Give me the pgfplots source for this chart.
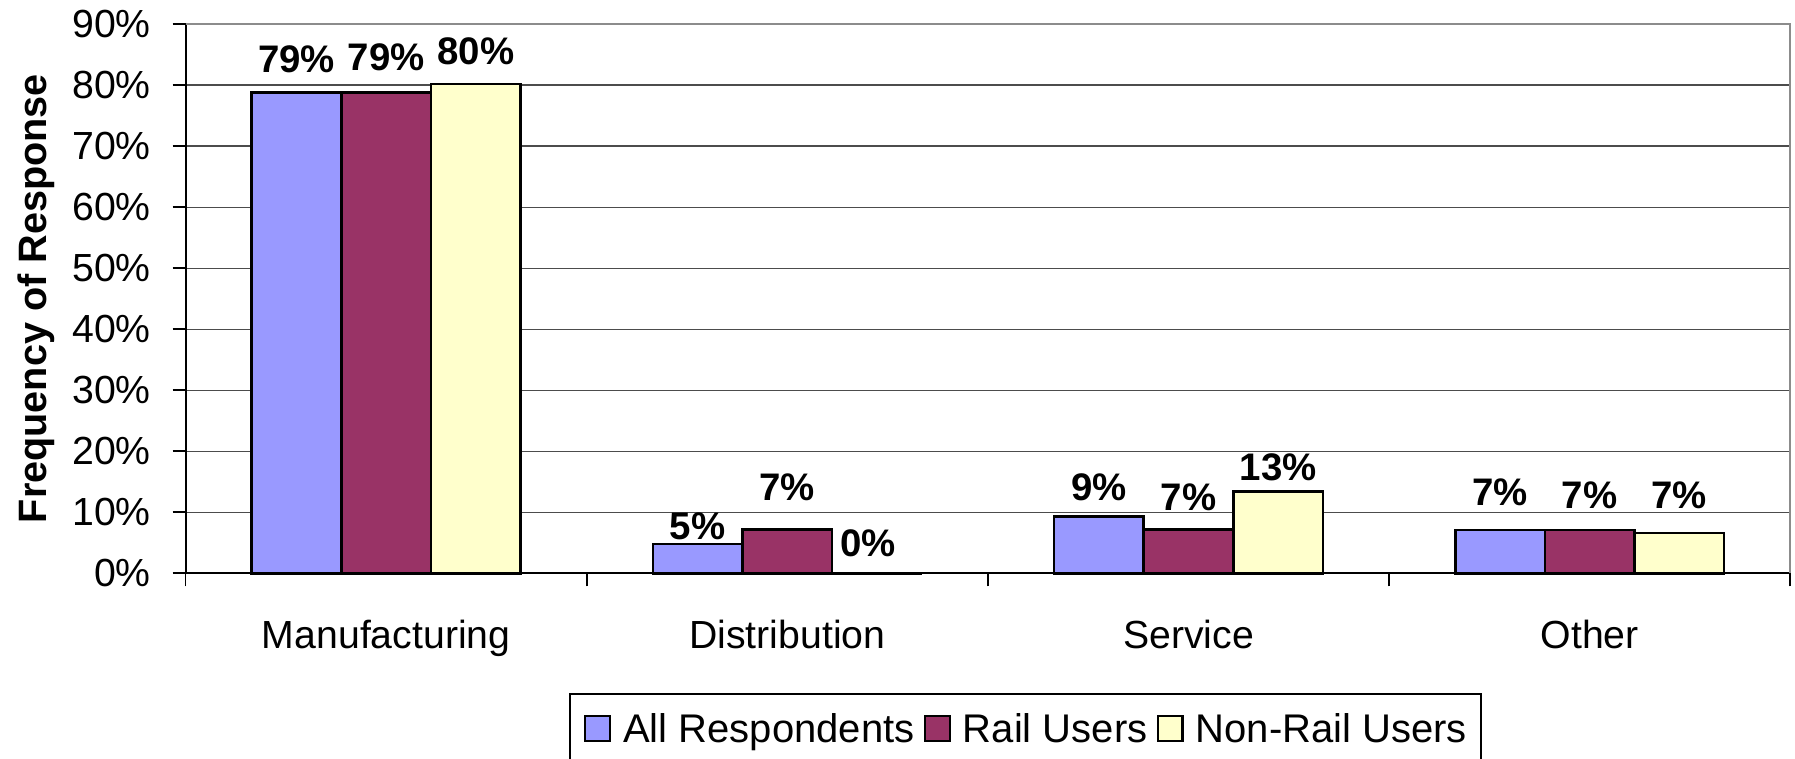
\documentclass[border=0pt]{standalone}
\usepackage{fontspec}
\setmainfont{Liberation Sans}
\usepackage{pgfplots}
\usepackage{pgfplotstable}
\pgfplotsset{compat=1.18}
\definecolor{cblue}{HTML}{9999FF}
\definecolor{cred}{HTML}{993366}
\definecolor{cyel}{HTML}{FFFFCC}

\pgfplotstableread{
x y dy dx
0 78.8 5.0 0
1 4.8 1.0 0
2 9.3 4.0 0
3 7.1 6.2 0
}\allresp
\pgfplotstableread{
x y dy dx
0 78.8 5.5 0
1 7.2 7.3 0
2 7.2 4.7 0
3 7.1 5.4 0
}\rail
\pgfplotstableread{
x y dy dx
0 80.2 4.75 0
1 0 4.2 -2.2
2 13.4 2.7 0
3 6.6 6.2 0
}\nonrail

\begin{document}
\begin{tikzpicture}
\useasboundingbox (-46.4pt,-46.4pt) rectangle (402.3pt,143.3pt);
\begin{axis}[
  at={(0,0)}, anchor=south west,
  scale only axis, width=401.1pt, height=137.3pt,
  xmin=-0.5, xmax=3.5, ymin=0, ymax=90,
  clip=false,
  axis lines=left,
  axis line style={-, black, line width=0.5pt},
  ybar=0pt, bar width=22.4pt,
  tick align=outside,
  major tick length=3.25pt,
  tick style={black, line width=0.4pt},
  xtick={-0.5,0.5,1.5,2.5,3.5}, xticklabels={},
  extra x ticks={0,1,2,3},
  extra x tick labels={Manufacturing,Distribution,Service,Other},
  extra x tick style={major tick length=0pt, grid=none,
     xticklabel style={anchor=base, inner sep=0pt, yshift=-18.7pt}},
  ytick={0,10,...,90},
  yticklabel={\pgfmathprintnumber{\tick}\%},
  /pgf/number format/assume math mode=true,
  yticklabel style={anchor=east, inner sep=0pt, xshift=-5.25pt},
  ticklabel style={font=\fontsize{9.8}{11.8}\selectfont},
  ymajorgrids, grid style={black!70, line width=0.3pt},
  ylabel={Frequency of Response},
  ylabel style={at={(axis description cs:-0.0866,0.5)}, anchor=base,
     font=\fontsize{9.9}{12}\selectfont\bfseries},
  nodes near coords={\pgfmathprintnumber[fixed,precision=0]{\pgfplotspointmeta}\%},
  visualization depends on={\thisrow{dy} \as \dy},
  visualization depends on={\thisrow{dx} \as \dx},
  every node near coord/.append style={anchor=base, inner sep=0pt,
     yshift=\dy pt, xshift=\dx pt, font=\fontsize{9.6}{11}\selectfont\bfseries, black},
  legend columns=-1,
  legend image code/.code={\draw[#1, line width=0.6pt] (0pt,-3.1pt) rectangle (6.2pt,3.1pt);},
  legend style={at={(axis description cs:0.2389,-0.2185)}, anchor=north west,
     draw=black, line width=0.5pt, inner xsep=3.5pt, inner ysep=4.9pt,
     font=\fontsize{10}{12}\selectfont,
     nodes={inner sep=0pt, text depth=0pt},
     /tikz/every odd column/.append style={column sep=3pt},
     /tikz/every even column/.append style={column sep=2.3pt}},
]
\addplot[fill=cblue, draw=black, line width=0.65pt] table[x=x,y=y] {\allresp};
\addplot[fill=cred, draw=black, line width=0.65pt] table[x=x,y=y] {\rail};
\addplot[fill=cyel, draw=black, line width=0.65pt] table[x=x,y=y] {\nonrail};
\legend{All Respondents, Rail Users, Non-Rail Users}
\draw[black!45, line width=0.5pt] (rel axis cs:0,1) -- (rel axis cs:1,1) -- (rel axis cs:1,0);
\end{axis}
\end{tikzpicture}
\end{document}
